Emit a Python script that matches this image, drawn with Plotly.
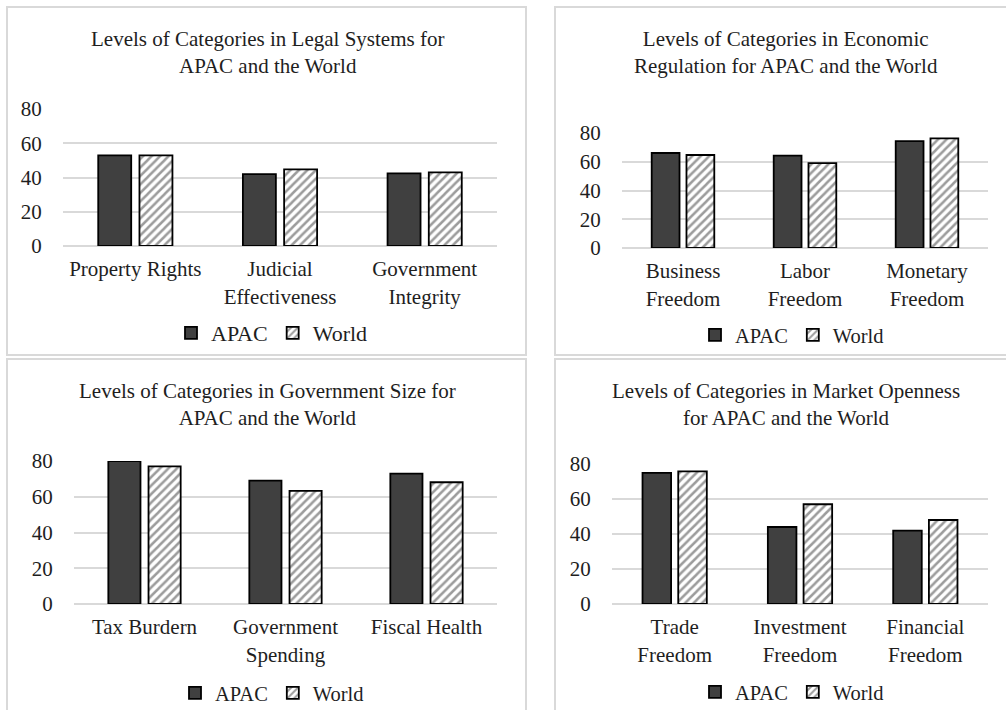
import plotly.graph_objects as go

W, H = 1006, 710

# ---- data ----
legal_cats = ["Property Rights", "Judicial<br>Effectiveness", "Government<br>Integrity"]
legal_apac = [52.9, 42.0, 42.4]
legal_world = [52.9, 44.8, 43.0]

econ_cats = ["Business<br>Freedom", "Labor<br>Freedom", "Monetary<br>Freedom"]
econ_apac = [66.1, 64.2, 74.4]
econ_world = [64.7, 59.1, 76.3]

gov_cats = ["Tax Burdern", "Government<br>Spending", "Fiscal Health"]
gov_apac = [80.0, 69.0, 72.9]
gov_world = [77.0, 63.3, 68.1]

mkt_cats = ["Trade<br>Freedom", "Investment<br>Freedom", "Financial<br>Freedom"]
mkt_apac = [74.9, 44.0, 41.9]
mkt_world = [75.8, 57.0, 48.0]

y_ticks = [0, 20, 40, 60, 80]

titles = [
    "Levels of Categories in Legal Systems for<br>APAC and the World",
    "Levels of Categories in Economic<br>Regulation for APAC and the World",
    "Levels of Categories in Government Size for<br>APAC and the World",
    "Levels of Categories in Market Openness<br>for APAC and the World",
]

FONT = "Liberation Serif, Times New Roman, serif"
TXT = "#1e1e1e"
APAC_COLOR = "#404040"


def px_x(p):
    return p / W


def px_y(p):
    return 1 - p / H


# panel geometry in pixels: plot-area (x0, x1, ytop(80), ybottom(0)), title center, legend center
panels = [
    dict(cats=legal_cats, apac=legal_apac, world=legal_world,
         plot=(63, 497, 109, 246), title=(267, 52), legend=(272, 333), lfs=22),
    dict(cats=econ_cats, apac=econ_apac, world=econ_world,
         plot=(622, 988, 133, 248), title=(786, 52), legend=(792, 335), lfs=20.5),
    dict(cats=gov_cats, apac=gov_apac, world=gov_world,
         plot=(74, 497, 461, 604), title=(267, 404), legend=(272, 693), lfs=20.5),
    dict(cats=mkt_cats, apac=mkt_apac, world=mkt_world,
         plot=(612, 988, 464, 604), title=(786, 404), legend=(792, 692), lfs=20.5),
]

fig = go.Figure()
layout = dict(
    width=W, height=H,
    margin=dict(l=0, r=0, t=0, b=0, autoexpand=False),
    paper_bgcolor="white", plot_bgcolor="white",
    barmode="group", bargap=0.43, bargroupgap=0.2,
    font=dict(family=FONT, size=21, color=TXT),
    showlegend=True,
)

annotations = []
shapes = []

for i, p in enumerate(panels):
    n = "" if i == 0 else str(i + 1)
    xa, ya = "x" + n, "y" + n
    lg = "legend" + n
    fig.add_trace(go.Bar(
        x=p["cats"], y=p["apac"], name="APAC", xaxis=xa, yaxis=ya, legend=lg,
        marker=dict(color=APAC_COLOR, line=dict(color="black", width=1.8)),
        cliponaxis=False,
    ))
    fig.add_trace(go.Bar(
        x=p["cats"], y=p["world"], name="World", xaxis=xa, yaxis=ya, legend=lg,
        marker=dict(color="white", line=dict(color="black", width=1.8),
                    pattern=dict(shape="/", fgcolor="#3a3a3a", bgcolor="white",
                                 size=6, solidity=0.42)),
        cliponaxis=False,
    ))
    x0, x1, yt, yb = p["plot"]
    layout["xaxis" + n] = dict(
        domain=[px_x(x0), px_x(x1)], anchor=ya,
        showgrid=False, showline=False, zeroline=False,
        ticks="outside", ticklen=4, tickcolor="rgba(0,0,0,0)",
        tickfont=dict(size=21, family=FONT, color=TXT),
        fixedrange=True,
    )
    layout["yaxis" + n] = dict(
        domain=[px_y(yb), px_y(yt)], anchor=xa, range=[0, 80],
        tickvals=y_ticks, showgrid=True, gridcolor="#d9d9d9", gridwidth=1.5,
        zeroline=True, zerolinecolor="#d9d9d9", zerolinewidth=1.5,
        showline=False, ticks="outside", ticklen=16, tickcolor="rgba(0,0,0,0)",
        tickfont=dict(size=21, family=FONT, color=TXT),
        fixedrange=True,
    )
    tx, ty = p["title"]
    annotations.append(dict(
        text=titles[i], x=px_x(tx), y=px_y(ty), xref="paper", yref="paper",
        xanchor="center", yanchor="middle", showarrow=False,
        font=dict(size=21, family=FONT, color=TXT),
    ))
    lx, ly = p["legend"]
    layout[lg] = dict(
        orientation="h", x=px_x(lx), y=px_y(ly), xanchor="center", yanchor="middle",
        font=dict(size=p["lfs"], family=FONT, color=TXT),
        bgcolor="rgba(0,0,0,0)", itemwidth=30, tracegroupgap=0,
    )

# panel frames
frames = [(7, 526, 7, 355), (555, 1040, 7, 355), (7, 526, 359, 760), (555, 1040, 359, 760)]
for (a, b, c, d) in frames:
    shapes.append(dict(type="rect", xref="paper", yref="paper",
                       x0=px_x(a), x1=px_x(b), y0=px_y(d), y1=px_y(c),
                       line=dict(color="#d9d9d9", width=2), layer="below"))

layout["annotations"] = annotations
layout["shapes"] = shapes
fig.update_layout(**layout)

fig.write_html("out.html")
